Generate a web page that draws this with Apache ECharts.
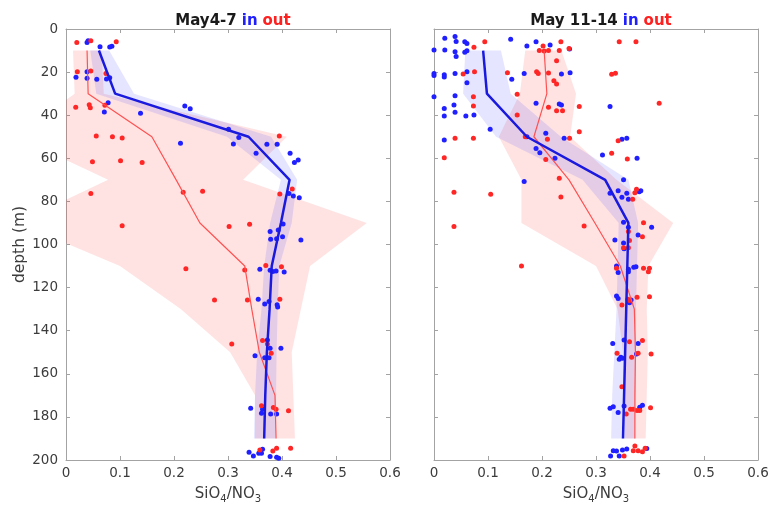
<!DOCTYPE html>
<html>
<head>
<meta charset="utf-8">
<script src="https://cdn.jsdelivr.net/npm/echarts@6/dist/echarts.min.js"></script>
<style>
  html, body { margin: 0; padding: 0; background: #fff; }
  #chart { width: 772px; height: 510px; }
</style>
</head>
<body>
<div id="chart"></div>
<script>
// Depth levels (m) at which the profile means and spreads are given
const depths = [10, 30, 50, 70, 90, 110, 130, 150, 170, 190];

// May 4-7 profiles
const mayA_inMean  = [0.061, 0.091, 0.338, 0.414, 0.398, 0.381, 0.377, 0.372, 0.369, 0.367];
const mayA_inLo    = [0.045, 0.056, 0.298, 0.398, 0.378, 0.367, 0.362, 0.354, 0.350, 0.348];
const mayA_inHi    = [0.080, 0.126, 0.380, 0.428, 0.418, 0.395, 0.392, 0.390, 0.389, 0.388];
const mayA_outMean = [0.039, 0.041, 0.159, 0.204, 0.248, 0.331, 0.344, 0.358, 0.387, 0.389];
const mayA_outLo   = [0.013, 0.016, -0.092, 0.078, -0.09, 0.100, 0.213, 0.304, 0.350, 0.350];
const mayA_outHi   = [0.066, 0.070, 0.409, 0.328, 0.557, 0.452, 0.435, 0.418, 0.421, 0.424];

// May 11-14 profiles
const mayB_inMean  = [0.091, 0.098, 0.172, 0.317, 0.360, 0.358, 0.356, 0.354, 0.352, 0.350];
const mayB_inLo    = [0.058, 0.054, 0.115, 0.275, 0.342, 0.340, 0.338, 0.334, 0.330, 0.328];
const mayB_inHi    = [0.124, 0.142, 0.235, 0.360, 0.378, 0.376, 0.374, 0.374, 0.374, 0.372];
const mayB_outMean = [0.204, 0.209, 0.185, 0.250, 0.298, 0.345, 0.371, 0.373, 0.372, 0.372];
const mayB_outLo   = [0.169, 0.159, 0.120, 0.162, 0.162, 0.300, 0.340, 0.350, 0.352, 0.353];
const mayB_outHi   = [0.236, 0.263, 0.252, 0.338, 0.443, 0.397, 0.394, 0.396, 0.394, 0.392];

// Individual samples [SiO4/NO3, depth]
const mayA_inPts = [
  [0.039,6.3],[0.041,5.5],[0.063,8.2],[0.081,8.3],[0.085,8.0],
  [0.0185,22.4],[0.039,22.9],[0.039,19.8],[0.057,23.3],[0.075,23.2],[0.081,22.6],
  [0.078,34.2],[0.071,38.5],[0.138,39.1],[0.220,35.7],[0.230,37.0],[0.212,53.0],
  [0.301,46.5],[0.320,50.3],[0.310,53.4],[0.372,53.5],[0.391,53.5],[0.352,57.7],[0.415,57.7],[0.423,62.0],[0.430,60.8],
  [0.413,76.3],[0.421,77.5],[0.432,78.3],
  [0.402,90.5],[0.378,94.0],[0.393,93.3],[0.401,96.4],[0.379,97.6],[0.390,97.3],[0.435,97.9],
  [0.359,111.5],[0.378,112.0],[0.383,112.5],[0.389,112.3],[0.404,112.8],
  [0.356,125.4],[0.368,127.6],[0.376,126.5],[0.391,128.0],[0.392,129.0],
  [0.373,144.3],[0.378,148.2],[0.398,148.2],[0.350,151.6],[0.368,152.5],[0.376,152.5],
  [0.342,176.0],[0.364,176.5],[0.362,178.3],[0.379,178.7],[0.390,178.7],
  [0.339,196.4],[0.347,198.1],[0.357,196.9],[0.362,196.9],[0.364,195.0],[0.378,198.4],[0.390,198.7],[0.394,199.2]
];
const mayA_outPts = [
  [0.020,6.3],[0.046,5.4],[0.093,5.9],
  [0.021,19.8],[0.046,19.5],[0.074,20.6],
  [0.018,36.3],[0.043,35.2],[0.045,36.5],[0.072,35.4],
  [0.056,49.7],[0.086,50.0],[0.104,50.6],[0.395,49.7],
  [0.049,61.6],[0.101,61.1],[0.141,61.9],
  [0.046,76.3],[0.217,75.8],[0.253,75.3],[0.396,76.6],[0.419,74.2],
  [0.104,91.3],[0.302,91.7],[0.340,90.6],
  [0.222,111.2],[0.331,111.8],[0.370,109.7],[0.399,110.3],
  [0.275,125.8],[0.336,125.8],[0.396,125.4],
  [0.307,146.2],[0.364,144.6],[0.373,146.2],[0.380,150.5],
  [0.362,174.8],[0.384,175.6],[0.389,176.5],[0.412,177.1],
  [0.359,195.4],[0.383,195.8],[0.390,194.6],[0.416,194.6]
];
const mayB_inPts = [
  [0.020,4.3],[0.039,3.5],[0.041,5.8],[0.057,5.9],[0.061,6.7],[0.142,4.8],[0.172,7.9],[0.189,5.9],[0.215,7.4],[0.251,9.3],
  [0.0,9.7],[0.020,9.7],[0.039,10.5],[0.041,12.8],[0.057,10.8],[0.061,10.1],
  [0.0,20.6],[0.0,21.6],[0.019,21.2],[0.019,22.3],[0.039,20.6],[0.061,19.8],[0.061,24.9],[0.144,23.3],[0.167,20.6],[0.236,20.9],[0.252,20.3],
  [0.0,31.4],[0.039,31.0],[0.019,36.9],[0.037,35.3],[0.019,40.4],[0.039,38.6],[0.059,40.4],[0.074,39.9],[0.189,34.5],[0.232,34.8],[0.236,35.3],[0.326,36.0],
  [0.104,46.5],[0.019,51.5],[0.172,50.0],[0.207,48.4],[0.241,50.7],[0.189,55.4],[0.196,57.4],[0.224,60.0],[0.348,51.2],[0.357,50.7],[0.312,58.5],[0.376,60.0],
  [0.167,70.8],[0.351,70.0],[0.326,76.2],[0.341,75.0],[0.357,76.2],[0.380,75.5],[0.383,75.0],[0.348,78.1],[0.360,79.0],
  [0.351,89.7],[0.360,92.0],[0.403,92.0],[0.378,95.6],[0.335,97.9],[0.351,99.3],[0.352,102.0],
  [0.338,110.0],[0.341,113.0],[0.360,111.5],[0.360,112.6],[0.370,110.6],[0.374,110.3],
  [0.338,123.9],[0.341,125.0],[0.362,127.0],[0.365,125.8],
  [0.331,145.9],[0.352,144.3],[0.378,145.9],[0.343,153.3],[0.346,152.3],[0.349,152.8],[0.375,150.8],
  [0.326,176.0],[0.332,175.3],[0.341,178.0],[0.352,174.9],[0.381,175.5],[0.386,174.6],
  [0.332,195.7],[0.338,195.8],[0.349,195.4],[0.357,194.9],[0.327,198.1],[0.343,198.1],[0.394,194.7]
];
const mayB_outPts = [
  [0.094,5.9],[0.074,8.5],[0.202,7.9],[0.235,5.9],[0.343,5.9],[0.374,5.9],
  [0.195,10.0],[0.204,10.2],[0.212,10.0],[0.232,10.0],[0.227,14.7],[0.250,9.0],
  [0.054,20.9],[0.075,19.8],[0.136,20.3],[0.190,19.8],[0.193,20.6],[0.212,20.4],[0.329,21.0],[0.336,20.5],[0.222,24.0],[0.227,25.5],
  [0.073,31.4],[0.154,30.3],[0.073,35.7],[0.212,36.3],[0.227,37.9],[0.238,37.9],[0.269,36.0],[0.417,34.5],[0.154,39.9],
  [0.039,50.7],[0.073,50.7],[0.169,50.0],[0.210,51.2],[0.251,50.7],[0.269,47.7],[0.341,51.8],
  [0.019,59.7],[0.207,60.5],[0.329,57.7],[0.358,60.3],[0.232,69.3],
  [0.037,75.8],[0.105,76.7],[0.235,78.0],[0.375,74.4],[0.372,76.0],[0.368,79.0],
  [0.037,91.7],[0.278,91.4],[0.388,89.9],[0.386,96.4],[0.360,94.0],[0.362,98.2],[0.351,101.5],[0.360,101.5],
  [0.162,110.0],[0.338,111.0],[0.388,111.0],[0.399,111.0],[0.397,112.6],
  [0.376,124.5],[0.399,124.2],[0.348,128.1],[0.362,126.0],[0.359,125.4],
  [0.362,145.1],[0.386,144.6],[0.339,150.5],[0.366,152.3],[0.378,150.5],[0.402,150.8],
  [0.348,166.0],
  [0.356,178.7],[0.364,176.5],[0.369,176.5],[0.376,177.0],[0.381,177.0],[0.401,175.7],
  [0.352,198.1],[0.372,193.5],[0.369,195.7],[0.378,195.7],[0.386,196.2],[0.391,194.6]
];

// Tick labels
const xTickLabels = ['0', '0.1', '0.2', '0.3', '0.4', '0.5', '0.6'];
const yTickLabels = ['0', '20', '40', '60', '80', '100', '120', '140', '160', '180', '200'];

const FONT = 'DejaVu Sans';
const AXIS_GREY = '#a3a3a3';
const LABEL_GREY = '#3c3c3c';
const BLUE = '#1f1fff', RED = '#ff2626';
const BLUE_LINE = '#1a1ade', RED_LINE = '#ff5252';
const BLUE_FILL = 'rgba(40,40,255,0.12)', RED_FILL = 'rgba(255,35,35,0.13)';

const chart = echarts.init(document.getElementById('chart'), null, { renderer: 'canvas' });

function xAxes(grid) {
  const base = {
    gridIndex: grid, type: 'value', min: 0, max: 0.6, interval: 0.1,
    splitLine: { show: false },
    axisLine: { show: true, onZero: false, lineStyle: { color: AXIS_GREY, width: 1 } },
    axisTick: { show: true, inside: true, length: 4, lineStyle: { color: AXIS_GREY } }
  };
  return [
    Object.assign({}, base, {
      position: 'bottom',
      axisLabel: {
        color: LABEL_GREY, fontFamily: FONT, fontSize: 13.5, margin: 6,
        formatter: v => xTickLabels[Math.round(v * 10)]
      },
      name: '{a|SiO}{s|4}{a|/NO}{s|3}',
      nameLocation: 'middle', nameGap: 24,
      nameTextStyle: {
        color: LABEL_GREY,
        rich: {
          a: { fontFamily: FONT, fontSize: 15, color: LABEL_GREY, lineHeight: 20 },
          s: { fontFamily: FONT, fontSize: 10, color: LABEL_GREY, lineHeight: 10, verticalAlign: 'bottom' }
        }
      }
    }),
    Object.assign({}, base, { position: 'top', axisLabel: { show: false } })
  ];
}

function yAxes(grid, withLabels) {
  const base = {
    gridIndex: grid, type: 'value', min: 0, max: 200, interval: 20, inverse: true,
    splitLine: { show: false },
    axisLine: { show: true, onZero: false, lineStyle: { color: AXIS_GREY, width: 1 } },
    axisTick: { show: true, inside: true, length: 4, lineStyle: { color: AXIS_GREY } }
  };
  const left = Object.assign({}, base, {
    position: 'left',
    axisLabel: {
      show: withLabels, color: LABEL_GREY, fontFamily: FONT, fontSize: 13.5, margin: 8,
      formatter: v => yTickLabels[Math.round(v / 20)]
    }
  });
  if (withLabels) {
    Object.assign(left, {
      name: 'depth (m)', nameLocation: 'middle', nameGap: 38, nameRotate: 90,
      nameTextStyle: { color: LABEL_GREY, fontFamily: FONT, fontSize: 15.5 }
    });
  }
  return [left, Object.assign({}, base, { position: 'right', axisLabel: { show: false } })];
}

// Shaded spread: polygon running down the low edge and back up the high edge
function band(axisIdx, lo, hi, fill, z) {
  return {
    type: 'custom', xAxisIndex: axisIdx, yAxisIndex: axisIdx, clip: true, silent: true, z: z,
    data: [[0, 0]],
    renderItem: function (params, api) {
      const pts = [];
      for (let i = 0; i < depths.length; i++) pts.push(api.coord([lo[i], depths[i]]));
      for (let i = depths.length - 1; i >= 0; i--) pts.push(api.coord([hi[i], depths[i]]));
      return { type: 'polygon', shape: { points: pts }, style: { fill: fill } };
    }
  };
}

function meanLine(axisIdx, mean, color, width, z) {
  return {
    type: 'line', xAxisIndex: axisIdx, yAxisIndex: axisIdx, z: z, silent: true,
    symbol: 'none', data: depths.map((d, i) => [mean[i], d]),
    lineStyle: { color: color, width: width }
  };
}

function dots(axisIdx, pts, color) {
  return {
    type: 'scatter', xAxisIndex: axisIdx, yAxisIndex: axisIdx, z: 3, silent: true,
    symbol: 'circle', symbolSize: 5, data: pts, itemStyle: { color: color, opacity: 1 }
  };
}

const titleRich = {
  k: { fontFamily: FONT, fontSize: 15, fontWeight: 'bold', color: '#1a1a1a' },
  b: { fontFamily: FONT, fontSize: 15, fontWeight: 'bold', color: '#2020ff' },
  r: { fontFamily: FONT, fontSize: 15, fontWeight: 'bold', color: '#ff2020' }
};

chart.setOption({
  animation: false,
  title: [
    { text: '{k|May4-7} {b|in} {r|out}', left: 228, top: 7, textAlign: 'center', textStyle: { rich: titleRich } },
    { text: '{k|May 11-14} {b|in} {r|out}', left: 596, top: 7, textAlign: 'center', textStyle: { rich: titleRich } }
  ],
  grid: [
    { left: 66, top: 29, width: 324, height: 431 },
    { left: 434, top: 29, width: 324, height: 431 }
  ],
  xAxis: [...xAxes(0), ...xAxes(1)],
  yAxis: [...yAxes(0, true), ...yAxes(1, false)],
  series: [
    band(0, mayA_outLo, mayA_outHi, RED_FILL, 1),
    band(0, mayA_inLo, mayA_inHi, BLUE_FILL, 1),
    band(2, mayB_outLo, mayB_outHi, RED_FILL, 1),
    band(2, mayB_inLo, mayB_inHi, BLUE_FILL, 1),
    dots(0, mayA_inPts, BLUE),
    dots(0, mayA_outPts, RED),
    dots(2, mayB_inPts, BLUE),
    dots(2, mayB_outPts, RED),
    meanLine(0, mayA_outMean, RED_LINE, 1.2, 4),
    meanLine(0, mayA_inMean, BLUE_LINE, 2.5, 5),
    meanLine(2, mayB_outMean, RED_LINE, 1.2, 4),
    meanLine(2, mayB_inMean, BLUE_LINE, 2.5, 5)
  ]
});
</script>
</body>
</html>
